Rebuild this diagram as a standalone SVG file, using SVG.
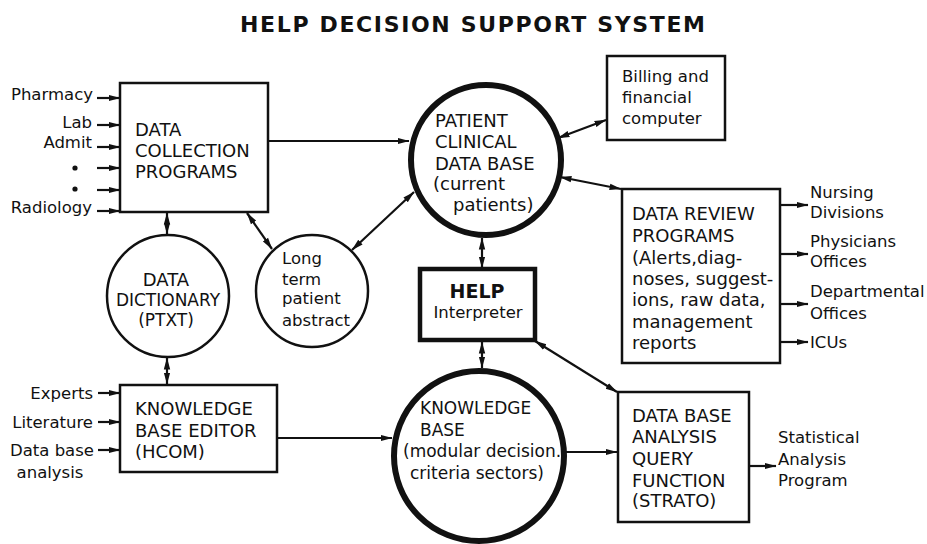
<svg xmlns="http://www.w3.org/2000/svg" width="927" height="544" viewBox="0 0 927 544">
<style>
text{font-family:"DejaVu Sans","Liberation Sans",sans-serif;fill:#111}
.t{font-size:18px}
.s{font-size:16.5px}
.title{font-size:22px;font-weight:bold}
.box{fill:#fff;stroke:#111;stroke-width:2.5}
.thick{fill:#fff;stroke:#111;stroke-width:6}
.thin{fill:#fff;stroke:#111;stroke-width:2.5}
.c{fill:none;stroke:#111;stroke-width:2.2}
</style>
<defs>
<marker id="ah" viewBox="0 0 12 8" refX="11.5" refY="4" markerWidth="12" markerHeight="8" markerUnits="userSpaceOnUse" orient="auto-start-reverse">
<path d="M0,0.8 L12,4 L0,7.2 Z" fill="#111"/>
</marker>
</defs>
<rect width="927" height="544" fill="#fff"/>
<text class="title" x="240" y="32" textLength="465" lengthAdjust="spacing">HELP DECISION SUPPORT SYSTEM</text>

<g id="connectors">
<line class="c" x1="268" y1="141" x2="409" y2="141" marker-end="url(#ah)"/>
<line class="c" x1="558" y1="138" x2="606" y2="120" marker-start="url(#ah)" marker-end="url(#ah)"/>
<line class="c" x1="560" y1="177" x2="621" y2="189" marker-start="url(#ah)" marker-end="url(#ah)"/>
<line class="c" x1="167" y1="213" x2="167" y2="234" marker-start="url(#ah)" marker-end="url(#ah)"/>
<line class="c" x1="247" y1="213" x2="272" y2="249" marker-start="url(#ah)" marker-end="url(#ah)"/>
<line class="c" x1="414" y1="192" x2="352" y2="250" marker-start="url(#ah)" marker-end="url(#ah)"/>
<line class="c" x1="482" y1="238" x2="482" y2="268" marker-start="url(#ah)" marker-end="url(#ah)"/>
<line class="c" x1="482" y1="342" x2="482" y2="368" marker-start="url(#ah)" marker-end="url(#ah)"/>
<line class="c" x1="167" y1="358" x2="167" y2="384" marker-start="url(#ah)" marker-end="url(#ah)"/>
<line class="c" x1="277" y1="438" x2="392" y2="438" marker-end="url(#ah)"/>
<line class="c" x1="566" y1="452" x2="617" y2="452" marker-end="url(#ah)"/>
<line class="c" x1="535" y1="341" x2="617" y2="392" marker-start="url(#ah)" marker-end="url(#ah)"/>
<line class="c" x1="749" y1="466" x2="776" y2="466" marker-end="url(#ah)"/>
<line class="c" x1="780" y1="205" x2="808" y2="205" marker-end="url(#ah)"/>
<line class="c" x1="780" y1="254" x2="808" y2="254" marker-end="url(#ah)"/>
<line class="c" x1="780" y1="304" x2="808" y2="304" marker-end="url(#ah)"/>
<line class="c" x1="780" y1="342" x2="808" y2="342" marker-end="url(#ah)"/>
<line class="c" x1="97" y1="98" x2="120" y2="98" marker-end="url(#ah)"/>
<line class="c" x1="97" y1="125" x2="120" y2="125" marker-end="url(#ah)"/>
<line class="c" x1="97" y1="147" x2="120" y2="147" marker-end="url(#ah)"/>
<line class="c" x1="97" y1="168" x2="120" y2="168" marker-end="url(#ah)"/>
<line class="c" x1="97" y1="190" x2="120" y2="190" marker-end="url(#ah)"/>
<line class="c" x1="97" y1="211" x2="120" y2="211" marker-end="url(#ah)"/>
<line class="c" x1="98" y1="393" x2="120" y2="393" marker-end="url(#ah)"/>
<line class="c" x1="98" y1="422" x2="120" y2="422" marker-end="url(#ah)"/>
<line class="c" x1="98" y1="450" x2="120" y2="450" marker-end="url(#ah)"/>
</g>

<g id="inputs-collection">
<text class="s" x="93" y="100" text-anchor="end">Pharmacy</text>
<text class="s" x="92" y="128" text-anchor="end">Lab</text>
<text class="s" x="92" y="148" text-anchor="end">Admit</text>
<circle cx="75" cy="168" r="2.6" fill="#111"/>
<circle cx="75" cy="189" r="2.6" fill="#111"/>
<text class="s" x="92" y="213" text-anchor="end">Radiology</text>
</g>

<g id="data-collection">
<rect class="box" x="120" y="83" width="148" height="129"/>
<text class="t" x="135" y="136">DATA</text>
<text class="t" x="135" y="157">COLLECTION</text>
<text class="t" x="135" y="178">PROGRAMS</text>
</g>

<g id="patient-db">
<circle class="thick" cx="486" cy="160" r="75"/>
<text class="t" x="435" y="127">PATIENT</text>
<text class="t" x="435" y="148">CLINICAL</text>
<text class="t" x="435" y="170">DATA BASE</text>
<text class="t" x="433" y="190">(current</text>
<text class="t" x="453" y="211">patients)</text>
</g>

<g id="billing">
<rect class="box" x="607" y="56" width="118" height="84"/>
<text class="s" x="622" y="82">Billing and</text>
<text class="s" x="622" y="103">financial</text>
<text class="s" x="622" y="124">computer</text>
</g>

<g id="data-review">
<rect class="box" x="622" y="189" width="158" height="174"/>
<text class="t" x="632" y="220">DATA REVIEW</text>
<text class="t" x="632" y="242">PROGRAMS</text>
<text class="t" x="632" y="264">(Alerts,diag-</text>
<text class="t" x="632" y="285">noses, suggest-</text>
<text class="t" x="632" y="306">ions, raw data,</text>
<text class="t" x="632" y="328">management</text>
<text class="t" x="632" y="349">reports</text>
</g>

<g id="outputs-review">
<text class="s" x="810" y="198">Nursing</text>
<text class="s" x="810" y="218">Divisions</text>
<text class="s" x="810" y="247">Physicians</text>
<text class="s" x="810" y="267">Offices</text>
<text class="s" x="810" y="297">Departmental</text>
<text class="s" x="810" y="319">Offices</text>
<text class="s" x="810" y="348">ICUs</text>
</g>

<g id="data-dictionary">
<circle class="thin" cx="168" cy="296" r="61"/>
<text class="t" x="166" y="286" text-anchor="middle" font-size="17">DATA</text>
<text class="t" x="168" y="306" text-anchor="middle" style="font-size:17px">DICTIONARY</text>
<text class="t" x="166" y="326" text-anchor="middle" style="font-size:17px">(PTXT)</text>
</g>

<g id="long-term">
<circle class="thin" cx="312" cy="291" r="56"/>
<text class="s" x="282" y="264">Long</text>
<text class="s" x="282" y="285">term</text>
<text class="s" x="282" y="304">patient</text>
<text class="s" x="282" y="326">abstract</text>
</g>

<g id="help-interpreter">
<rect x="420" y="269" width="115" height="71" fill="#fff" stroke="#111" stroke-width="4.5"/>
<text x="477" y="298" text-anchor="middle" style="font-size:19px;font-weight:bold">HELP</text>
<text class="s" x="478" y="318" text-anchor="middle">Interpreter</text>
</g>

<g id="knowledge-editor">
<rect class="box" x="120" y="385" width="157" height="87"/>
<text class="t" x="135" y="415">KNOWLEDGE</text>
<text class="t" x="135" y="437">BASE EDITOR</text>
<text class="t" x="135" y="458">(HCOM)</text>
</g>

<g id="inputs-editor">
<text class="s" x="93" y="399" text-anchor="end">Experts</text>
<text class="s" x="93" y="428" text-anchor="end">Literature</text>
<text class="s" x="52" y="456" text-anchor="middle">Data base</text>
<text class="s" x="50" y="478" text-anchor="middle">analysis</text>
</g>

<g id="knowledge-base">
<circle class="thick" cx="479" cy="456" r="85"/>
<text class="t" x="420" y="414" style="font-size:17px">KNOWLEDGE</text>
<text class="t" x="420" y="436" style="font-size:17px">BASE</text>
<text class="t" x="403" y="457" style="font-size:17px">(modular decision.</text>
<text class="t" x="410" y="479" style="font-size:17px">criteria sectors)</text>
</g>

<g id="db-analysis">
<rect class="box" x="618" y="392" width="131" height="130"/>
<text class="t" x="632" y="422">DATA BASE</text>
<text class="t" x="632" y="443">ANALYSIS</text>
<text class="t" x="632" y="465">QUERY</text>
<text class="t" x="632" y="487">FUNCTION</text>
<text class="t" x="632" y="507">(STRATO)</text>
</g>

<g id="statistical">
<text class="s" x="778" y="443">Statistical</text>
<text class="s" x="778" y="465">Analysis</text>
<text class="s" x="778" y="486">Program</text>
</g>
</svg>
